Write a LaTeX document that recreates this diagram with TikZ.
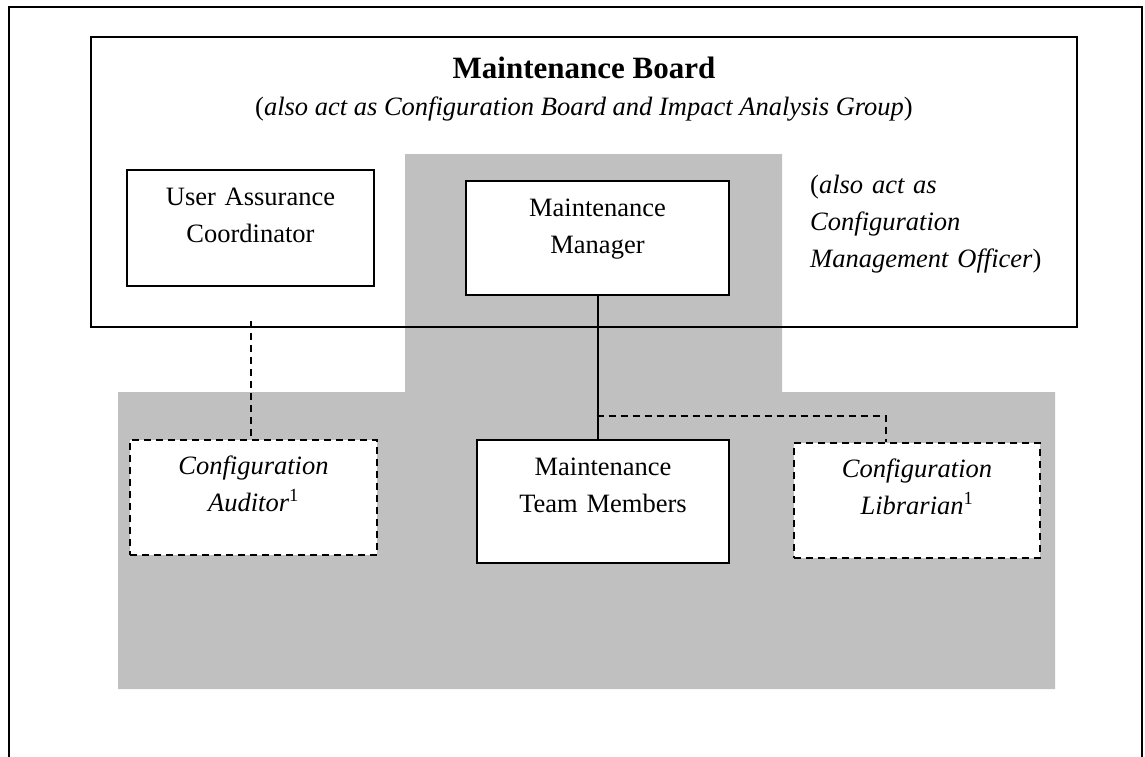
\documentclass[tikz,border=0pt]{standalone}
\usepackage{fontspec}
\setmainfont{Liberation Serif}
\definecolor{bggray}{RGB}{192,192,192}
\begin{document}
\begin{tikzpicture}[x=1pt,y=-1pt,
  orgbox/.style={draw=black, line width=2pt, fill=white, inner sep=0pt,
    align=center, anchor=north west, font=\fontsize{26.5}{37}\selectfont},
  dashbox/.style={orgbox, dash pattern=on 7pt off 5pt},
  dashline/.style={draw=black, line width=2pt, dash pattern=on 7pt off 5pt},
  solidline/.style={draw=black, line width=2pt},
  frameline/.style={draw=black, line width=2pt},
  bodytext/.style={inner sep=0pt, font=\fontsize{26.5}{37}\selectfont}]
\useasboundingbox (0,0) rectangle (1145,757);
% grey background regions
\fill[fill=bggray] (405,154) -- (782,154) -- (782,392) -- (1055,392) -- (1055,689)
  -- (118,689) -- (118,392) -- (405,392) -- cycle;
% outer frame (open at bottom)
\draw[frameline] (9,757) -- (9,7) -- (1142,7) -- (1142,757);
% maintenance board
\draw[frameline] (91,37) rectangle (1077,327);
\node[inner sep=0pt, anchor=base, font=\fontsize{31}{37}\selectfont\bfseries] (title) at (584,79) {Maintenance Board};
\node[bodytext, anchor=base] (subtitle) at (584,116) {(\textit{also act as Configuration Board and Impact Analysis Group})};
\node[bodytext, anchor=base west, text width=260pt, align=left] (cmo) at (810,193)
  {(\textit{also act as}\\ \textit{Configuration}\\ \textit{Management Officer})};
% boxes
\node[orgbox, text width=247pt, text height=35pt, text depth=81pt] (uac) at (126,169) {User Assurance\\Coordinator};
\node[orgbox, text width=263pt, text height=35pt, text depth=79pt] (mm) at (465,180) {Maintenance\\Manager};
\node[orgbox, text width=252pt, text height=35pt, text depth=88pt] (mtm) at (476,439) {Maintenance\\Team Members};
\node[dashbox, text width=247pt, text height=34pt, text depth=81pt] (aud) at (129,439) {\textit{Configuration}\\\textit{Auditor}\textsuperscript{1}};
\node[dashbox, text width=246pt, text height=34pt, text depth=81pt] (lib) at (793,442) {\textit{Configuration}\\\textit{Librarian}\textsuperscript{1}};
% connectors
\coordinate (audstart) at (251,321);
\draw[dashline] (audstart) -- (audstart |- aud.north);
\draw[solidline] (mm.south) -- (mm.south |- mtm.north);
\coordinate (branch) at (596.5,416);
\coordinate (libjoin) at (886,416);
\draw[dashline] (branch) -- (libjoin) -- (libjoin |- lib.north);
\end{tikzpicture}
\end{document}
